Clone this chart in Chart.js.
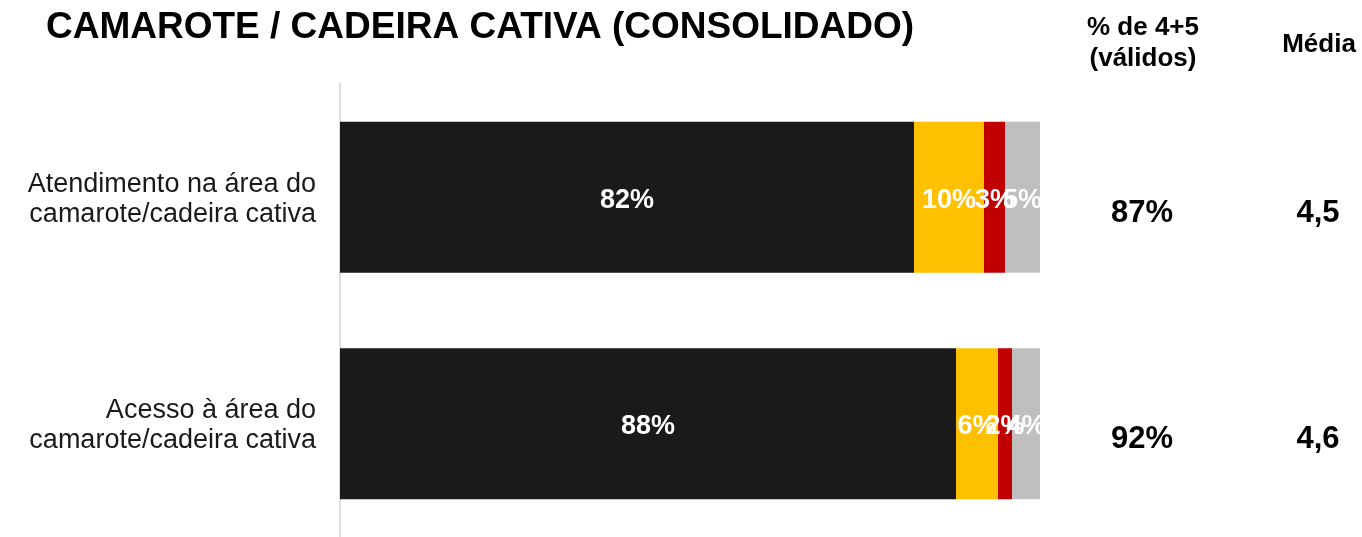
<!DOCTYPE html>
<html>
<head>
<meta charset="utf-8">
<script src="https://cdn.jsdelivr.net/npm/chart.js@4"></script>
<style>
  body { margin: 0; background: #fff; }
  #wrap { width: 1362px; height: 537px; position: relative; }
</style>
</head>
<body>
<div id="wrap"><canvas id="satChart"></canvas></div>
<script>
/*--data--*/
var categories = [
  ["Atendimento na área do", "camarote/cadeira cativa"],
  ["Acesso à área do", "camarote/cadeira cativa"]
];
var nota5 = [82, 88];
var nota4 = [10, 6];
var nota3 = [3, 2];
var nota12 = [5, 4];
var top45 = ["87%", "92%"];
var media = ["4,5", "4,6"];

var FONT = "'Liberation Sans', Arial, sans-serif";

/*--draws the percentages inside the bars, the labels, the title and the right columns--*/
var textPlugin = {
  id: 'textPlugin',
  afterDatasetsDraw: function(chart) {
    var ctx = chart.ctx;
    ctx.save();
    ctx.fillStyle = '#ffffff';
    ctx.font = 'bold 27px ' + FONT;
    ctx.textAlign = 'center';
    ctx.textBaseline = 'middle';
    chart.data.datasets.forEach(function(ds, i) {
      chart.getDatasetMeta(i).data.forEach(function(bar, j) {
        var c = bar.getCenterPoint();
        ctx.fillText(ds.data[j] + '%', c.x, c.y + 3);
      });
    });
    ctx.restore();
  },
  afterDraw: function(chart) {
    var ctx = chart.ctx;
    var y = chart.scales.y;
    ctx.save();
    ctx.textBaseline = 'middle';

    // category labels
    ctx.fillStyle = '#1a1a1a';
    ctx.textAlign = 'right';
    ctx.font = '27px ' + FONT;
    categories.forEach(function(lines, i) {
      var py = y.getPixelForValue(i);
      ctx.fillText(lines[0], 316, py - 13);
      ctx.fillText(lines[1], 316, py + 17);
    });

    ctx.fillStyle = '#000000';
    ctx.textAlign = 'left';
    ctx.font = 'bold 37px ' + FONT;
    ctx.fillText('CAMAROTE / CADEIRA CATIVA (CONSOLIDADO)', 46, 28);

    ctx.textAlign = 'center';
    ctx.font = 'bold 26px ' + FONT;
    ctx.fillText('% de 4+5', 1143, 28);
    ctx.fillText('(válidos)', 1143, 59);
    ctx.fillText('Média', 1319, 45);

    ctx.font = 'bold 31px ' + FONT;
    categories.forEach(function(c, i) {
      var py = y.getPixelForValue(i) + 16;
      ctx.fillText(top45[i], 1142, py);
      ctx.fillText(media[i], 1318, py);
    });
    ctx.restore();
  }
};

new Chart(document.getElementById('satChart'), {
  type: 'bar',
  data: {
    labels: categories,
    datasets: [
      { label: '5', data: nota5, backgroundColor: '#1a1a1a' },
      { label: '4', data: nota4, backgroundColor: '#ffc000' },
      { label: '3', data: nota3, backgroundColor: '#c00000' },
      { label: '1+2', data: nota12, backgroundColor: '#bfbfbf' }
    ]
  },
  plugins: [textPlugin],
  options: {
    indexAxis: 'y',
    responsive: true,
    maintainAspectRatio: false,
    animation: false,
    layout: { padding: { top: 84, right: 322, bottom: 0, left: 0 } },
    datasets: {
      bar: { categoryPercentage: 1, barPercentage: 0.667, borderWidth: 0 }
    },
    plugins: {
      legend: { display: false },
      tooltip: { enabled: false }
    },
    scales: {
      x: {
        stacked: true,
        min: 0,
        max: 100,
        display: false
      },
      y: {
        stacked: true,
        grid: { display: false },
        border: { display: true, color: '#dcdce4', width: 2 },
        ticks: { display: false },
        afterFit: function(scale) { scale.width = 340; }
      }
    }
  }
});
</script>
</body>
</html>
